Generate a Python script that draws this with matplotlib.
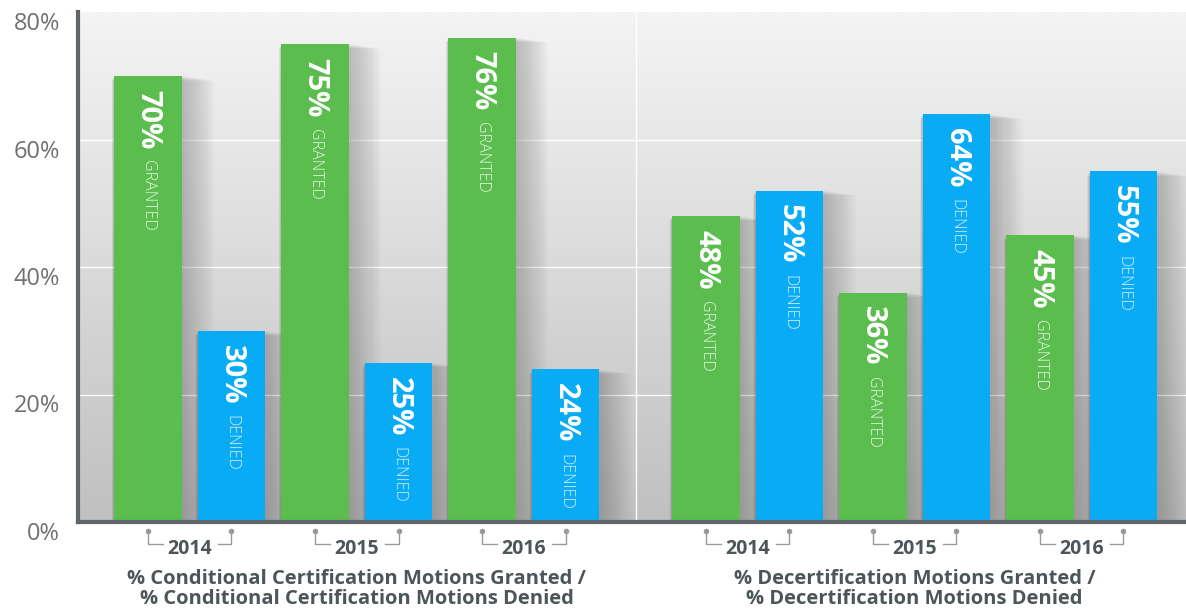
import numpy as np
import matplotlib.pyplot as plt
import matplotlib.transforms as mtransforms

plt.rcParams['font.family'] = ['Open Sans', 'DejaVu Sans']

years = ['2014', '2015', '2016']
cond_granted = [70, 75, 76]
cond_denied = [30, 25, 24]
decert_granted = [48, 36, 45]
decert_denied = [52, 64, 55]
group_titles = ['% Conditional Certification Motions Granted /\n% Conditional Certification Motions Denied',
                '% Decertification Motions Granted /\n% Decertification Motions Denied']

green = '#5bbd4e'
blue = '#0aabf5'
dark = '#4d5559'

fig = plt.figure(figsize=(11.86, 6.11), dpi=100)
ax = fig.add_axes([78 / 1186, 89 / 611, 1 - 78 / 1186, 510 / 611])

xmin, xmax = -0.838, 12.43
ax.set_xlim(xmin, xmax)
ax.set_ylim(0, 80)

# background gradient
grad = np.linspace(0, 1, 256).reshape(-1, 1)
ax.imshow(grad, extent=[xmin, xmax, 0, 80], aspect='auto', cmap=plt.matplotlib.colors.LinearSegmentedColormap.from_list(
    'bg', ['#c0c0c0', '#dadada', '#f4f4f4']), origin='lower', zorder=0)

for yv in [20, 40, 60]:
    ax.axhline(yv, color='white', lw=1, zorder=1)
ax.axvline(5.84, color='white', lw=1, zorder=1)

w = 0.81
trans = mtransforms.blended_transform_factory(ax.transData, ax.transAxes)
groups = [(0.0, cond_granted, cond_denied), (6.68, decert_granted, decert_denied)]
for gi, (off, gr, de) in enumerate(groups):
    xs_g = [off + 2 * i for i in range(3)]
    xs_d = [off + 2 * i + 1 for i in range(3)]
    allx = xs_g + xs_d
    allh = gr + de
    # soft shadows
    for k in range(1, 16):
        ax.bar([x + 0.012 * k for x in allx], [h - 0.05 * k for h in allh], width=w + 0.028 * k,
               color='#505050', alpha=0.022, zorder=2, linewidth=0)
    ax.bar(xs_g, gr, width=w, color=green, zorder=3, linewidth=0)
    ax.bar(xs_d, de, width=w, color=blue, zorder=3, linewidth=0)
    for x, h, word in [(x, h, 'GRANTED') for x, h in zip(xs_g, gr)] + [(x, h, 'DENIED') for x, h in zip(xs_d, de)]:
        ax.annotate(f'{h}%', (x, h), xytext=(0, -10), textcoords='offset points',
                    rotation=-90, rotation_mode='anchor', ha='left', va='center',
                    color='white', fontsize=21, fontweight='bold', zorder=4)
        ax.annotate(word, (x, h), xytext=(0, -61), textcoords='offset points',
                    rotation=-90, rotation_mode='anchor', ha='left', va='center',
                    color='#e4f5e1' if word == 'GRANTED' else '#d3eefc', fontsize=11.5,
                    fontweight='light', zorder=4)

    # year labels with brackets
    for i, yr in enumerate(years):
        a, b = xs_g[i], xs_d[i]
        ax.plot([a, a, a + 0.18], [-0.018, -0.043, -0.043], color='#9a9a9a', lw=1,
                transform=trans, clip_on=False)
        ax.plot([b - 0.16, b, b], [-0.043, -0.043, -0.018], color='#9a9a9a', lw=1,
                transform=trans, clip_on=False)
        ax.plot([a, b], [-0.018, -0.018], 'o', color='#9a9a9a', ms=3,
                transform=trans, clip_on=False)
        ax.text((a + b) / 2, -0.052, yr, transform=trans, ha='center', va='center',
                fontsize=14, fontweight='bold', color=dark)
    ax.text((xs_g[0] + xs_d[-1]) / 2, -0.093, group_titles[gi], transform=trans,
            ha='center', va='top', fontsize=14.5, fontweight='bold', color=dark,
            linespacing=1.0)

ax.set_yticks([0, 20, 40, 60, 80])
ax.set_yticklabels(['0%', '20%', '40%', '60%', '80%'])
for lab in ax.get_yticklabels():
    lab.set_va('top')
ax.tick_params(axis='y', length=0, pad=13, labelsize=17, labelcolor='#707070')
ax.set_xticks([])

for s in ['top', 'right']:
    ax.spines[s].set_visible(False)
for s in ['left', 'bottom']:
    ax.spines[s].set_color('#5f676b')
    ax.spines[s].set_linewidth(3)
    ax.spines[s].set_zorder(5)

fig.savefig('out.png', dpi=100)
